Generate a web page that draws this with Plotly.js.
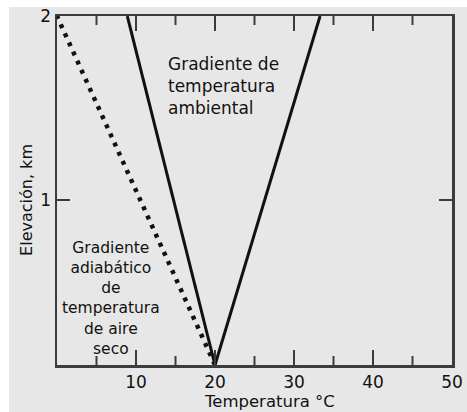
<!DOCTYPE html>
<html>
<head>
<meta charset="utf-8">
<script src="https://cdn.plot.ly/plotly-3.0.1.min.js"></script>
<style>
  html, body { margin: 0; padding: 0; background: #ffffff; }
  #chart { position: absolute; left: 9px; top: 7px; width: 458px; height: 405px; }
</style>
</head>
<body>
<div id="chart"></div>
<script>
// Temperature (°C) against elevation (km)
const elevation = [0.1, 2.0];
const ambientLeftTemp = [20, 8.9];     // environmental lapse, cooler edge
const ambientRightTemp = [20, 33.3];   // environmental lapse, warmer edge
const dryAdiabaticTemp = [20, 0];      // dry adiabatic lapse (10 °C/km)

const xTickVals = [10, 20, 30, 40, 50];
const xMinorVals = [5, 15, 25, 35, 45];
const yTickVals = [1, 2];

const ambientLabel = ['Gradiente de', 'temperatura', 'ambiental'];
const adiabaticLabel = ['Gradiente', 'adiabático', 'de', 'temperatura', 'de aire', 'seco'];
const xTitle = 'Temperatura °C';
const yTitle = 'Elevación, km';

const FONT = 'DejaVu Sans, Verdana, sans-serif';
const INK = '#121212';
const AXIS = '#3c3c3c';
const MAJOR_LEN = 15, MINOR_LEN = 9;

const W = 458, H = 405;
const M = { l: 48, r: 15, t: 9, b: 47 };
const PLOT_H = H - M.t - M.b;   // pixel height of the plotting area

// x tick marks on the bottom and top frame edges, laid out on a pixel-scaled overlay axis
const tickX = [], tickY = [];
function addTick(v, len) {
  tickX.push(v, v, null, v, v, null);
  tickY.push(0, len, null, PLOT_H, PLOT_H - len, null);
}
xTickVals.filter(v => v < 50).forEach(v => addTick(v, MAJOR_LEN));
xMinorVals.forEach(v => addTick(v, MINOR_LEN));

const traces = [
  { x: ambientLeftTemp, y: elevation, mode: 'lines',
    line: { color: '#111', width: 3 }, hoverinfo: 'skip' },
  { x: ambientRightTemp, y: elevation, mode: 'lines',
    line: { color: '#111', width: 3 }, hoverinfo: 'skip' },
  { x: dryAdiabaticTemp, y: elevation, mode: 'lines',
    line: { color: '#111', width: 4.5, dash: '4px,6px' }, hoverinfo: 'skip' },
  { x: tickX, y: tickY, yaxis: 'y2', mode: 'lines', connectgaps: false,
    line: { color: AXIS, width: 2 }, hoverinfo: 'skip' }
];

const annotations = [
  { text: ambientLabel.join('<br>'), xref: 'paper', yref: 'paper', x: 0.276, y: 0.798,
    xanchor: 'left', yanchor: 'middle', align: 'left', showarrow: false,
    font: { family: FONT, size: 17, color: INK } },
  { text: adiabaticLabel.join('<br>'), xref: 'paper', yref: 'paper', x: 0.136, y: 0.191,
    xanchor: 'center', yanchor: 'middle', align: 'center', showarrow: false,
    font: { family: FONT, size: 15.5, color: INK } },
  { text: xTitle, xref: 'paper', yref: 'paper', x: 0.537, y: -0.106,
    xanchor: 'center', yanchor: 'middle', showarrow: false,
    font: { family: FONT, size: 16.5, color: INK } },
  { text: yTitle, xref: 'paper', yref: 'paper', x: -0.076, y: 0.473,
    xanchor: 'center', yanchor: 'middle', textangle: -90, showarrow: false,
    font: { family: FONT, size: 16, color: INK } }
];

const layout = {
  width: W, height: H,
  margin: M,
  paper_bgcolor: '#e7e7e7',
  plot_bgcolor: '#e7e7e7',
  showlegend: false,
  xaxis: {
    range: [0, 50], tickmode: 'array', tickvals: xTickVals, ticks: '',
    showline: true, linecolor: AXIS, linewidth: 2.5, mirror: true,
    showgrid: false, zeroline: false, ticklabeloverflow: 'allow',
    tickfont: { family: FONT, size: 17, color: INK }
  },
  yaxis: {
    range: [0.1, 2.0005], tickmode: 'array', tickvals: yTickVals,
    ticks: 'inside', ticklen: 13, tickwidth: 2, tickcolor: AXIS,
    showline: true, linecolor: AXIS, linewidth: 2.5, mirror: 'ticks',
    showgrid: false, zeroline: false, ticklabeloverflow: 'allow',
    tickfont: { family: FONT, size: 17, color: INK }
  },
  yaxis2: {
    overlaying: 'y', range: [0, PLOT_H], visible: false,
    showgrid: false, zeroline: false, fixedrange: true
  },
  annotations: annotations
};

Plotly.newPlot('chart', traces, layout, { staticPlot: true, displayModeBar: false });
</script>
</body>
</html>
